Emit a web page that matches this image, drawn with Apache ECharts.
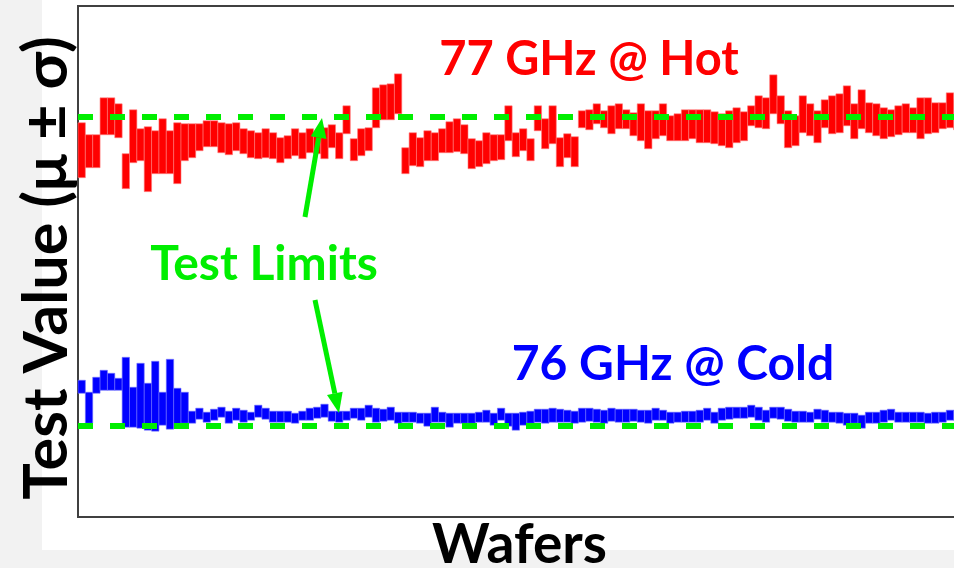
<!DOCTYPE html>
<html lang="en">
<head>
    <meta charset="UTF-8" />
    <title>Test Value per Wafer</title>
    <script src="https://cdn.jsdelivr.net/npm/echarts@6/dist/echarts.min.js"></script>
    <style>
        html, body { margin: 0; padding: 0; background: #f2f2f2; }
        #main { width: 954px; height: 568px; }
    </style>
</head>
<body>
<div id="main"></div>
<script>
    // mean +/- sigma per wafer (arbitrary units)
    const hotHigh = [
        395, 383, 383, 420, 420, 414, 364, 408, 389, 391,
        387, 399, 387, 395, 394, 394, 394, 397, 397, 395,
        394, 395, 389, 387, 385, 389, 385, 380, 382, 389,
        385, 389, 384, 390, 393, 385, 412, 379, 389, 390,
        430, 433, 434, 444, 370, 385, 380, 387, 385, 389,
        396, 399, 393, 379, 377, 385, 383, 383, 412, 385,
        389, 379, 412, 399, 412, 380, 384, 381, 407, 408,
        414, 407, 412, 414, 408, 405, 414, 407, 407, 414,
        402, 404, 408, 408, 408, 408, 406, 404, 407, 410,
        406, 412, 422, 420, 443, 422, 407, 402, 422, 414,
        407, 418, 422, 424, 432, 414, 428, 415, 414, 410,
        408, 412, 414, 410, 420, 420, 415, 415, 425, 418
    ];
    const hotLow = [
        340, 350, 350, 383, 383, 380, 329, 355, 357, 326,
        344, 344, 344, 334, 357, 360, 367, 371, 371, 365,
        363, 367, 364, 360, 359, 360, 359, 355, 359, 362,
        359, 365, 364, 359, 370, 359, 384, 357, 362, 367,
        390, 398, 398, 404, 344, 352, 351, 357, 357, 365,
        365, 366, 364, 349, 351, 354, 357, 358, 377, 361,
        367, 357, 387, 369, 374, 351, 360, 351, 390, 388,
        394, 390, 384, 389, 389, 382, 377, 369, 379, 382,
        377, 377, 377, 379, 375, 375, 374, 372, 370, 375,
        377, 392, 390, 389, 404, 394, 370, 372, 385, 382,
        375, 390, 384, 385, 392, 379, 389, 385, 382, 379,
        381, 383, 385, 385, 379, 384, 385, 389, 390, 388
    ];
    const coldHigh = [
        137, 125, 140, 147, 144, 139, 160, 130, 154, 134,
        156, 125, 158, 129, 125, 106, 109, 105, 108, 110,
        106, 109, 107, 105, 112, 109, 106, 106, 106, 104,
        106, 109, 110, 113, 106, 106, 106, 109, 109, 112,
        109, 108, 110, 105, 105, 105, 104, 104, 110, 105,
        104, 104, 104, 104, 105, 107, 104, 109, 104, 104,
        105, 106, 108, 108, 109, 108, 107, 106, 109, 109,
        108, 107, 109, 108, 108, 108, 107, 107, 109, 107,
        105, 105, 106, 106, 107, 109, 105, 109, 110, 110,
        110, 112, 110, 107, 110, 110, 108, 106, 106, 105,
        108, 107, 105, 105, 104, 104, 102, 105, 105, 107,
        108, 105, 105, 105, 105, 104, 105, 105, 107, 107
    ];
    const coldLow = [
        124, 94, 124, 127, 127, 127, 90, 90, 89, 87,
        86, 92, 88, 89, 94, 94, 98, 95, 97, 100,
        94, 97, 95, 97, 100, 98, 95, 95, 95, 94,
        97, 97, 99, 100, 96, 95, 97, 99, 97, 100,
        95, 96, 97, 94, 95, 95, 94, 91, 95, 95,
        90, 94, 94, 94, 95, 95, 92, 97, 91, 87,
        92, 94, 95, 94, 95, 95, 95, 94, 95, 96,
        95, 94, 96, 95, 95, 96, 95, 94, 97, 97,
        94, 95, 95, 95, 95, 97, 94, 97, 98, 99,
        99, 100, 97, 95, 99, 98, 96, 95, 95, 95,
        98, 95, 95, 94, 92, 94, 89, 94, 94, 95,
        97, 95, 95, 95, 95, 94, 94, 95, 97, 97
    ];
    const testLimits = [401, 91]; // hot, cold

    const wafers = hotHigh.map((v, i) => 'W' + (i + 1));

    const titleFont = 'Lato, "Open Sans", sans-serif';
    const green = '#00ee00';

    var myChart = echarts.init(document.getElementById('main'));

    function floatingBar(params, api) {
        const x = api.coord([api.value(0), 0])[0];
        const top = api.coord([api.value(0), api.value(2)])[1];
        const bottom = api.coord([api.value(0), api.value(1)])[1];
        const w = api.size([1, 0])[0];
        return {
            type: 'rect',
            shape: { x: x - w / 2, y: top, width: w, height: bottom - top },
            style: api.style()
        };
    }

    function arrow(x1, y1, x2, y2) {
        // line plus a triangular head pointing at (x2, y2)
        const dx = x2 - x1, dy = y2 - y1;
        const len = Math.sqrt(dx * dx + dy * dy);
        const ux = dx / len, uy = dy / len;
        const bx = x2 - ux * 20, by = y2 - uy * 20;
        return [
            { type: 'line', shape: { x1: x1, y1: y1, x2: bx, y2: by }, style: { stroke: green, lineWidth: 5 }, z: 20 },
            { type: 'polygon', shape: { points: [[x2, y2], [bx - uy * 8, by + ux * 8], [bx + uy * 8, by - ux * 8]] }, style: { fill: green }, z: 20 }
        ];
    }

    var option = {
        backgroundColor: '#f2f2f2',
        animation: false,
        grid: {
            left: 78, right: -7, top: 6, bottom: 51,
            outerBoundsMode: 'none',
            containLabel: false,
            show: true,
            borderColor: '#404040',
            borderWidth: 2
        },
        xAxis: {
            type: 'category',
            data: wafers,
            name: 'Wafers',
            nameLocation: 'middle',
            nameGap: 1,
            nameTextStyle: { fontFamily: titleFont, fontWeight: 'bold', fontSize: 55, color: '#000' },
            axisLine: { show: false },
            axisTick: { show: false },
            axisLabel: { show: false }
        },
        yAxis: {
            type: 'value',
            min: 0,
            max: 512,
            axisLine: { show: false },
            axisTick: { show: false },
            axisLabel: { show: false },
            splitLine: { show: false }
        },
        series: [
            {
                name: '77 GHz @ Hot',
                type: 'custom',
                renderItem: floatingBar,
                encode: { x: 0, y: [1, 2] },
                itemStyle: { color: '#ff0000', borderColor: 'rgba(255,120,120,0.6)', borderWidth: 1 },
                data: hotHigh.map((v, i) => [i, hotLow[i], v]),
                z: 2
            },
            {
                name: '76 GHz @ Cold',
                type: 'custom',
                renderItem: floatingBar,
                encode: { x: 0, y: [1, 2] },
                itemStyle: { color: '#0000ff', borderColor: 'rgba(110,110,255,0.6)', borderWidth: 1 },
                data: coldHigh.map((v, i) => [i, coldLow[i], v]),
                z: 2
            },
            {
                name: 'Test Limits',
                type: 'line',
                data: [],
                z: 5,
                markLine: {
                    silent: true,
                    symbol: 'none',
                    label: { show: false },
                    lineStyle: { color: green, width: 6, type: [15, 17], cap: 'butt' },
                    data: testLimits.map(v => ({ yAxis: v }))
                }
            }
        ],
        graphic: [
            { type: 'rect', shape: { x: 42, y: 0, width: 912, height: 550 }, style: { fill: '#ffffff' }, z: -10 },
            // y axis title
            { type: 'text', x: 47, y: 268, rotation: Math.PI / 2, z: 20, style: { text: 'Test Value (μ ± σ)', font: 'bold 61px ' + titleFont, fill: '#000', align: 'center', verticalAlign: 'middle' } },
            { type: 'text', x: 589, y: 60, z: 20, style: { text: '77 GHz @ Hot', font: 'bold 47px ' + titleFont, fill: '#ff0000', align: 'center', verticalAlign: 'middle' } },
            { type: 'text', x: 673, y: 365, z: 20, style: { text: '76 GHz @ Cold', font: 'bold 48px ' + titleFont, fill: '#0000ff', align: 'center', verticalAlign: 'middle' } },
            { type: 'text', x: 264, y: 265, z: 20, style: { text: 'Test Limits', font: 'bold 48px ' + titleFont, fill: green, align: 'center', verticalAlign: 'middle' } }
        ].concat(arrow(305, 217, 322, 118), arrow(315, 300, 339, 413))
    };

    myChart.setOption(option);
</script>
</body>
</html>
